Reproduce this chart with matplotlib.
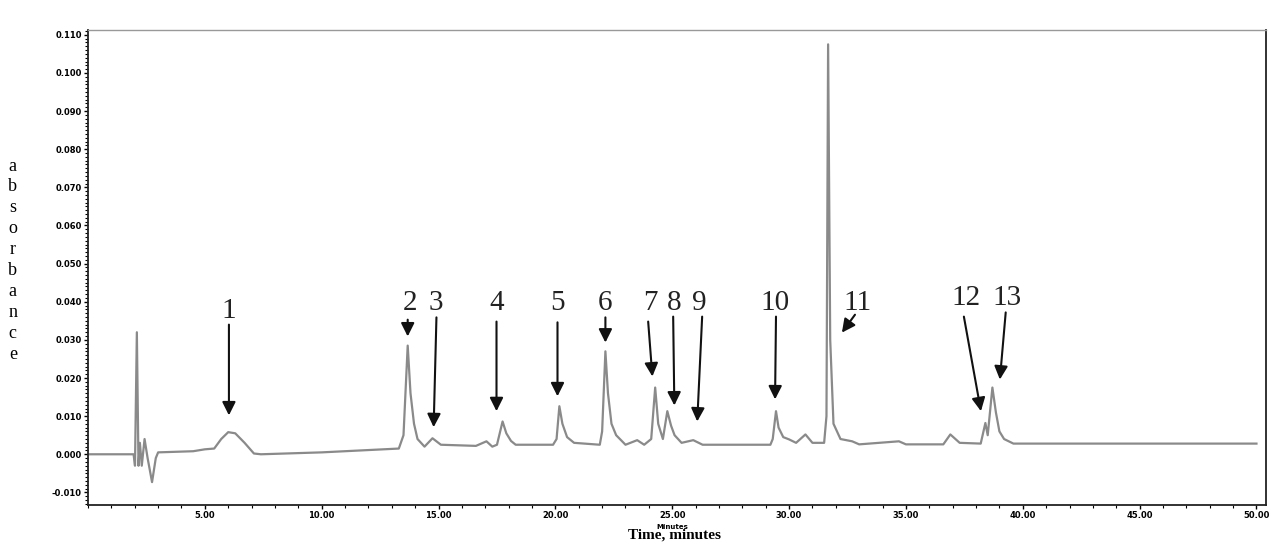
import numpy as np
import matplotlib.pyplot as plt
from matplotlib.ticker import MultipleLocator, FixedLocator

# trace points (time in minutes, absorbance)
time = [0.0, 1.95, 2.01, 2.09, 2.16, 2.22, 2.30, 2.42, 2.55, 2.74, 2.90, 3.0,
        4.5, 5.0, 5.4, 5.7, 6.0, 6.3, 6.7, 7.1, 7.4, 10.0,
        13.3, 13.5, 13.68, 13.8, 13.95, 14.1, 14.4, 14.74, 15.1, 16.6, 17.05, 17.3,
        17.5, 17.74, 17.9, 18.1, 18.3, 19.9, 20.05, 20.17, 20.3, 20.5, 20.8, 21.9, 22.0,
        22.14, 22.25, 22.4, 22.6, 23.0, 23.5, 23.8, 24.1, 24.27, 24.4, 24.6, 24.79,
        24.95, 25.1, 25.4, 25.9, 26.3, 29.2, 29.3, 29.44, 29.55, 29.75, 30.0, 30.3, 30.7,
        31.0, 31.5, 31.6, 31.67, 31.76, 31.9, 32.2, 32.7, 33.0, 34.7, 35.0,
        36.6, 36.9, 37.3, 38.2, 38.4, 38.5, 38.7, 38.85, 39.0, 39.2, 39.6, 50.0]
absorb = [0.0, 0.0, -0.003, 0.032, -0.003, 0.003, -0.003, 0.004, -0.001, -0.0073, -0.001, 0.0005,
          0.0008, 0.0013, 0.0015, 0.004, 0.0058, 0.0055, 0.003, 0.0002, 0.0, 0.0005,
          0.0015, 0.005, 0.0285, 0.016, 0.008, 0.004, 0.002, 0.0042, 0.0025, 0.0022, 0.0034, 0.002,
          0.0025, 0.0086, 0.0055, 0.0035, 0.0025, 0.0025, 0.004, 0.0126, 0.008, 0.0045, 0.003, 0.0025, 0.006,
          0.027, 0.016, 0.008, 0.005, 0.0025, 0.0037, 0.0025, 0.004, 0.0175, 0.008, 0.004, 0.0113,
          0.0075, 0.005, 0.003, 0.0037, 0.0025, 0.0025, 0.004, 0.0113, 0.007, 0.0045, 0.0039, 0.003, 0.0052,
          0.003, 0.003, 0.01, 0.1075, 0.03, 0.008, 0.004, 0.0034, 0.0026, 0.0034, 0.0026,
          0.0026, 0.0052, 0.003, 0.0028, 0.0082, 0.005, 0.0175, 0.011, 0.006, 0.004, 0.0028, 0.0028]

# peak labels and their arrows
peak_labels = ['1', '2', '3', '4', '5', '6', '7', '8', '9', '10', '11', '12', '13']
label_x = [6.03, 13.76, 14.87, 17.48, 20.09, 22.14, 24.06, 25.09, 26.15, 29.40, 32.91, 37.56, 39.32]
label_y = [0.0377, 0.0398, 0.0398, 0.0398, 0.0398, 0.0398, 0.0398, 0.0398, 0.0398, 0.0398, 0.0398, 0.0411, 0.0411]
tail_x = [6.03, 13.68, 14.91, 17.48, 20.09, 22.14, 23.97, 25.04, 26.28, 29.44, 32.82, 37.48, 39.27]
tail_y = [0.0340, 0.0353, 0.0359, 0.0348, 0.0346, 0.0359, 0.0348, 0.0361, 0.0361, 0.0361, 0.0366, 0.0361, 0.0372]
tip_x = [6.03, 13.68, 14.79, 17.48, 20.09, 22.14, 24.15, 25.09, 26.07, 29.40, 32.26, 38.21, 39.02]
tip_y = [0.0102, 0.0309, 0.0071, 0.0113, 0.0152, 0.0293, 0.0204, 0.0128, 0.0086, 0.0144, 0.0319, 0.0113, 0.0196]

x_ticks = [5, 10, 15, 20, 25, 30, 35, 40, 45, 50]
y_ticks = np.round(np.arange(-0.010, 0.1101, 0.010), 3)

fig = plt.figure(figsize=(12.83, 5.43), dpi=100)
ax = fig.add_axes([0.0686, 0.070, 0.918, 0.875])

ax.plot(time, absorb, color='#8a8a8a', lw=1.6)

for lab, lx, ly, tx, ty, hx, hy in zip(peak_labels, label_x, label_y,
                                        tail_x, tail_y, tip_x, tip_y):
    ax.text(lx, ly, lab, ha='center', va='center', fontsize=21,
            family='Liberation Serif', color='#222222')
    ax.annotate('', xy=(hx, hy), xytext=(tx, ty),
                arrowprops=dict(arrowstyle='-|>', color='#111111', lw=1.5,
                                mutation_scale=20, shrinkA=0, shrinkB=0))

ax.set_xlim(0, 50.4)
ax.set_ylim(-0.0133, 0.1113)

ax.xaxis.set_major_locator(FixedLocator(x_ticks))
ax.set_xticklabels(['%.2f' % v for v in x_ticks])
ax.xaxis.set_minor_locator(MultipleLocator(1))
ax.yaxis.set_major_locator(FixedLocator(y_ticks))
ax.set_yticklabels(['%.3f' % v for v in y_ticks])
ax.yaxis.set_minor_locator(MultipleLocator(0.001))

ax.tick_params(axis='both', which='major', labelsize=6, length=3, width=1,
               direction='out', pad=1.5)
ax.tick_params(axis='both', which='minor', length=2, width=0.8, direction='out')
for lbl in ax.get_xticklabels() + ax.get_yticklabels():
    lbl.set_fontweight('bold')

for side in ['left', 'right', 'bottom']:
    ax.spines[side].set_color('#222222')
    ax.spines[side].set_linewidth(1.3)
ax.spines['top'].set_color('#999999')
ax.spines['top'].set_linewidth(1.0)

ax.text(25, -0.0192, 'Minutes', ha='center', va='center', fontsize=5,
        fontweight='bold')

fig.text(0.526, 0.014, 'Time, minutes', ha='center', va='center',
         fontsize=11, fontweight='bold', family='Liberation Serif')
fig.text(0.010, 0.521, '\n'.join('absorbance'), ha='center', va='center',
         fontsize=13, family='Liberation Serif', linespacing=1.3)

fig.savefig('out.png', dpi=100)
